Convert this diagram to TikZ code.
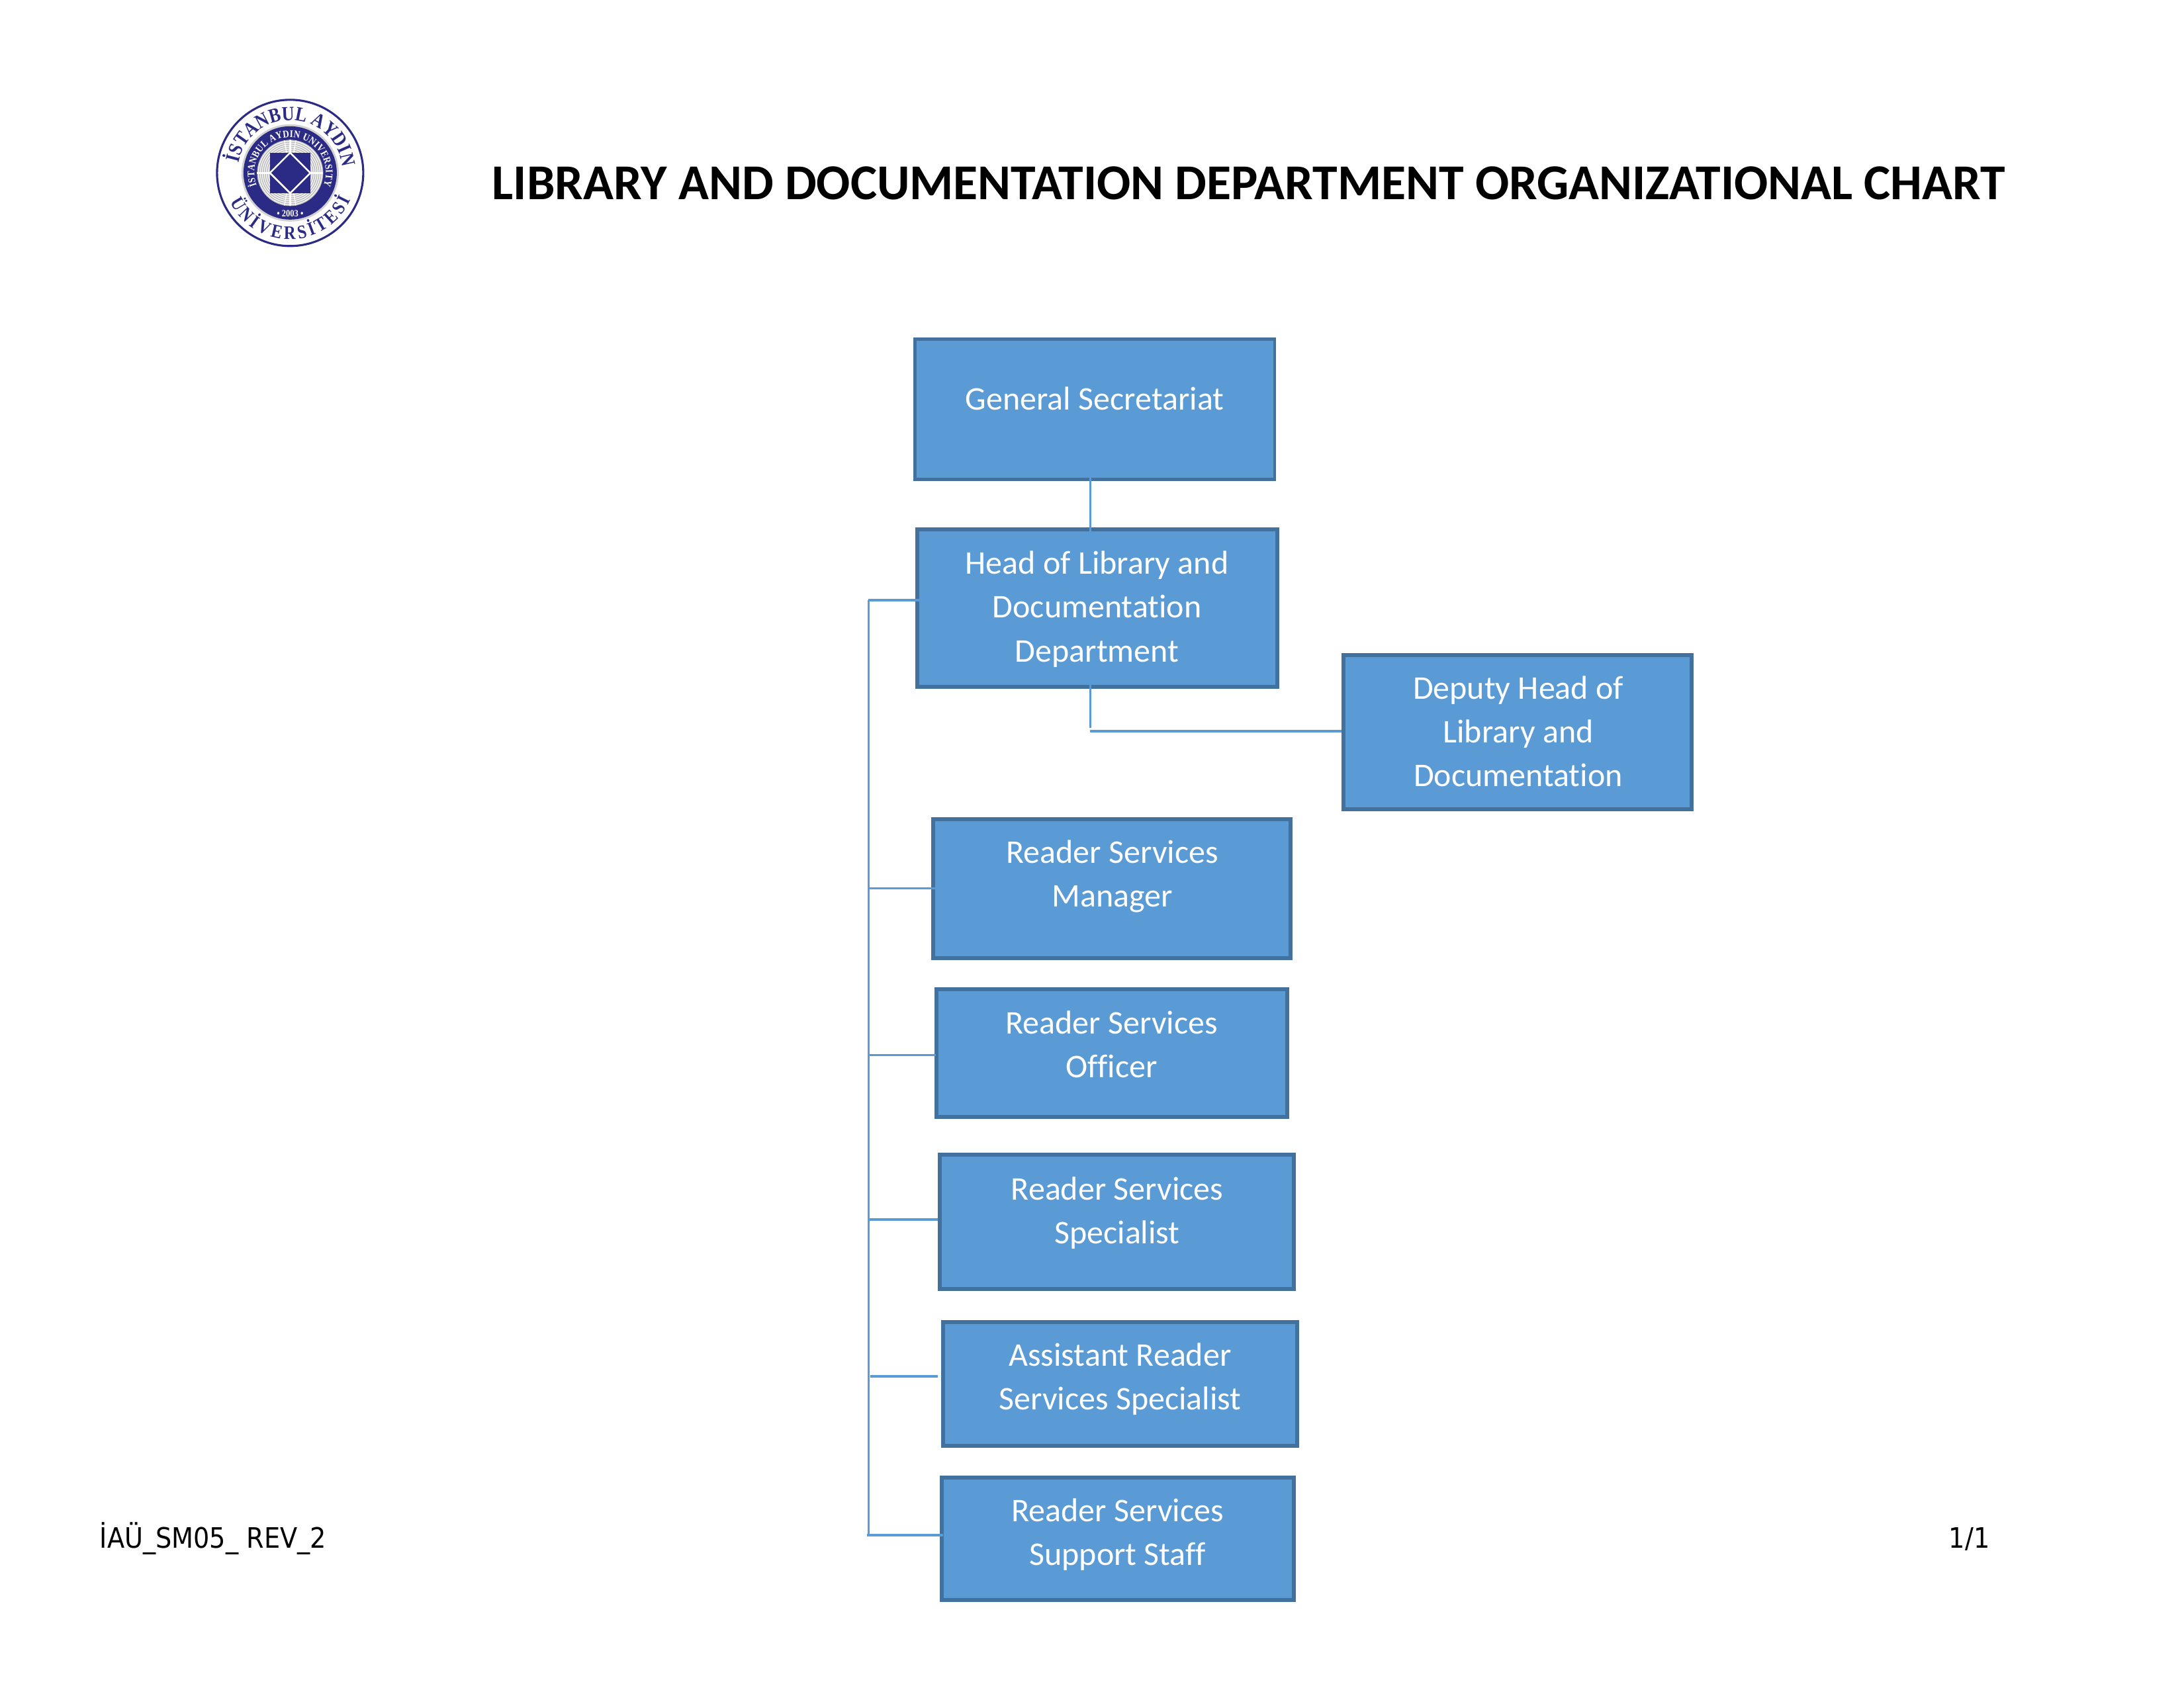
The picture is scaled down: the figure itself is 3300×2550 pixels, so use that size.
\documentclass[tikz,border=0pt]{standalone}
\usepackage{fontspec}
\setmainfont{Carlito}[Ligatures=NoCommon]
\newfontfamily\footfont{DejaVu Sans Condensed}
\newfontfamily\sealfont{Liberation Serif}[FakeStretch=0.86]
\usetikzlibrary{decorations.text}
\definecolor{boxfill}{HTML}{5B9BD5}
\definecolor{boxline}{HTML}{41719C}
\definecolor{seal}{HTML}{2B2B85}
\definecolor{sealgray}{HTML}{BDBDBD}
\tikzset{
  orgbox/.style={draw=boxline,fill=boxfill,line width=1.44pt,inner sep=0pt,outer sep=0pt},
  orgtext/.style={text=white,align=center,anchor=north,inner sep=0pt,font=\fontsize{12}{15.9}\selectfont},
  linkv/.style={draw=boxfill,line width=0.72pt},
  linkh/.style={draw=boxfill,line width=0.85pt},
  foot/.style={anchor=base west,inner sep=0pt,font=\footfont\fontsize{10.2}{12}\selectfont},
  sealarc/.style={postaction={decorate,decoration={text along path,text align=fit to path,text={#1}}}},
}
\newcommand{\orgnode}[6]{%
  \node[orgbox,minimum width=#4*0.24pt-#2*0.24pt,minimum height=#5*0.24pt-#3*0.24pt,#6] (#1) at ({(#2+#4)/2},{-(#3+#5)/2}) {};
}
\begin{document}
\begin{tikzpicture}[x=0.24pt,y=0.24pt]
\useasboundingbox (0,0) rectangle (3300,-2550);
% logo
\begin{scope}[shift={(438.4,-261.3)}]
  \draw[seal,line width=0.75pt] (0,0) circle (110.5);
  \fill[sealgray!70] (0,0) circle (73.5);
  \fill[seal] (0,0) circle (70.5);
  \fill[sealgray] (0,0) circle (50);
  \foreach \r in {33,36,39,42,45,48}{
    \draw[white,line width=0.28pt] (0,0) circle (\r);
  }
  \foreach \a in {90,270,0,180}{
    \draw[white,line width=0.6pt] (\a:28) -- (\a:50);
  }
  \foreach \a in {80,100,260,280}{
    \draw[white,line width=0.3pt] (\a:30) -- (\a:50);
  }
  \fill[seal] (-30.6,-30.6) rectangle (30.6,30.6);
  \draw[white,line width=0.6pt] (0,30.6) -- (30.6,0) -- (0,-30.6) -- (-30.6,0) -- cycle;
  \path[sealarc={|\sealfont\bfseries\fontsize{7.3}{7}\selectfont\color{seal}|İSTANBUL AYDIN}]
     (169:79.6) arc[start angle=169,end angle=9,radius=79.6];
  \path[sealarc={|\sealfont\bfseries\fontsize{6.9}{7}\selectfont\color{seal}|ÜNİVERSİTESİ}]
     (206:100.4) arc[start angle=206,end angle=336,radius=100.4];
  \path[sealarc={|\sealfont\bfseries\fontsize{3.7}{4}\selectfont\color{white}|İSTANBUL AYDIN UNIVERSITY}]
     (201:54) arc[start angle=201,end angle=-21,radius=54];
  \node[text=white,inner sep=0pt,font=\sealfont\bfseries\fontsize{3.5}{4}\selectfont] (year) at (0,-61) {• 2003 •};
\end{scope}
% title
\node[anchor=base west,inner sep=0pt,font=\bfseries\fontsize{18.2}{22}\selectfont] (title) at (743,-301) {LIBRARY AND DOCUMENTATION DEPARTMENT ORGANIZATIONAL CHART};
% boxes
\orgnode{gs}{1382.5}{512.5}{1926}{724.5}{line width=1.1pt}
\orgnode{head}{1385.5}{800}{1930}{1037.5}{}
\orgnode{deputy}{2030}{990}{2556}{1222.5}{}
\orgnode{rsm}{1410}{1237.5}{1950}{1447.5}{}
\orgnode{rso}{1415}{1495}{1944.5}{1687.5}{}
\orgnode{rssp}{1420}{1745}{1955}{1947.5}{}
\orgnode{arss}{1425}{1997.5}{1960}{2185}{}
\orgnode{rsss}{1422.5}{2232.5}{1955}{2417.5}{}
% box texts (north = first baseline - strut height, 46.2 px)
\node[orgtext] (tgs) at (1654,-571.8) {\strut General Secretariat};
\node[orgtext] (thead) at (1657.6,-820.4) {\strut Head of Library and\\Documentation\\Department};
\node[orgtext] (tdeputy) at (2294,-1008.8) {\strut Deputy Head of\\Library and\\Documentation};
\node[orgtext] (trsm) at (1680.5,-1257.5) {\strut Reader Services\\Manager};
\node[orgtext] (trso) at (1679.5,-1514.8) {\strut Reader Services\\Officer};
\node[orgtext] (trssp) at (1688,-1765.8) {\strut Reader Services\\Specialist};
\node[orgtext] (tarss) at (1692.5,-2017.5) {\strut Assistant Reader\\Services Specialist};
\node[orgtext] (trsss) at (1688.5,-2252.5) {\strut Reader Services\\Support Staff};
% connector coordinates
\coordinate (busx) at (1312,0);
\coordinate (stem) at (1647,0);
\coordinate (b0) at (0,-907);
\coordinate (b1) at (0,-1342.3);
\coordinate (b2) at (0,-1594.7);
\coordinate (b3) at (0,-1842.7);
\coordinate (b4) at (0,-2079.7);
\coordinate (b5) at (0,-2320);
\coordinate (dy) at (0,-1105);
\draw[linkv,shorten <=-0.55pt,shorten >=-0.72pt] (gs.south -| stem) -- (head.north -| stem);
\draw[linkv,shorten <=-0.72pt,shorten >=1.2pt] (head.south -| stem) -- (dy -| stem);
\draw[linkh,shorten >=0.72pt] (dy -| stem) -- (dy -| deputy.west);
\draw[linkh,shorten >=-0.72pt] (b0 -| busx) -- (b0 -| head.west);
\draw[linkv,shorten >=-0.5pt] (b0 -| busx) -- (b5 -| busx);
\draw[linkh,shorten >=-0.72pt] (b1 -| busx) -- (b1 -| rsm.west);
\draw[linkh,shorten >=0.24pt] (b2 -| busx) -- (b2 -| rso.west);
\draw[linkh,shorten >=0.72pt] (b3 -| busx) -- (b3 -| rssp.west);
\draw[linkh,shorten <=0.72pt,shorten >=1.92pt] (b4 -| busx) -- (b4 -| arss.west);
\draw[linkh,shorten <=-0.5pt,shorten >=-0.6pt] (b5 -| busx) -- (b5 -| rsss.west);
% footer
\node[foot] (fl) at (150,-2339) {İAÜ\_SM05\_ REV\_2};
\node[foot] (fr) at (2944,-2339) {1/1};
\end{tikzpicture}
\end{document}
